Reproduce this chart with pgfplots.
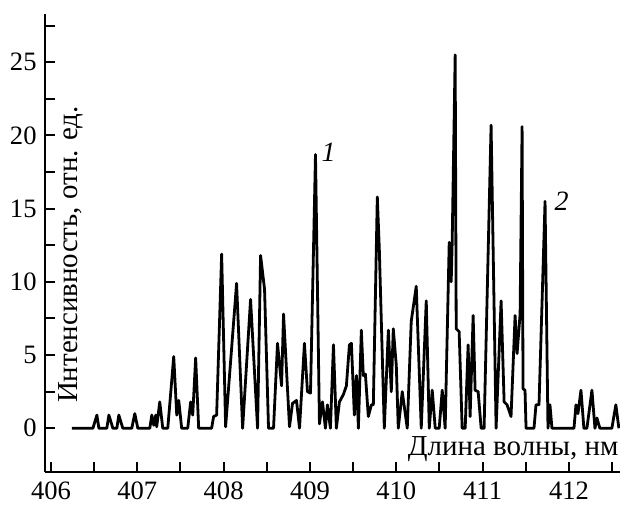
\documentclass[border=0pt]{standalone}
\usepackage{fontspec}
\setmainfont{Liberation Serif}
\usepackage{pgfplots}
\pgfplotsset{compat=1.18}

\begin{document}
\begin{tikzpicture}
\begin{axis}[
  name=ax,
  scale only axis,
  width=288pt, height=229.5pt,
  xmin=405.93, xmax=412.59,
  ymin=-3.0, ymax=28.3,
  axis x line*=bottom, axis y line*=left,
  axis line style={-, line width=1.1pt},
  xtick={406,...,412},
  minor xtick={406.5,407.5,...,412.5},
  ytick={0,5,...,25},
  minor ytick={2.5,7.5,...,27.5},
  tick align=inside,
  major tick length=5pt, minor tick length=5pt,
  tick style={line width=1pt, black},
  /pgf/number format/1000 sep={},
  /pgf/number format/assume math mode=true,
  ticklabel style={font=\fontsize{13.3}{15}\selectfont},
  yticklabel style={anchor=east, inner sep=0pt, xshift=-4pt},
  xticklabel style={anchor=north, inner sep=0pt, yshift=-4.5pt},
]
\addplot[black, line width=1.4pt, line join=round] coordinates {
(406.243,0) (406.486,0) (406.532,0.9) (406.555,0) (406.647,0) (406.671,0.9)
(406.717,0) (406.763,0) (406.786,0.9) (406.832,0) (406.936,0) (406.971,1.0)
(407.006,0) (407.145,0) (407.168,0.9) (407.191,0.2) (407.214,0.9) (407.225,0.1)
(407.260,1.8) (407.295,0) (407.353,0) (407.422,4.9) (407.457,0.9) (407.480,1.9)
(407.514,0) (407.584,0) (407.618,1.8) (407.642,0.9) (407.676,4.8) (407.711,0)
(407.861,0) (407.884,0.8) (407.919,0.9) (407.977,11.9) (408.023,0.1) (408.150,9.9)
(408.220,0) (408.312,8.8) (408.393,0) (408.428,11.8) (408.474,9.5) (408.520,0)
(408.578,0) (408.624,5.8) (408.671,2.9) (408.694,7.8) (408.763,0.1) (408.798,1.7)
(408.844,1.9) (408.879,0) (408.936,5.8) (408.971,2.5) (409.006,2.4) (409.064,18.7)
(409.110,0.3) (409.145,1.8) (409.179,0) (409.202,1.6) (409.237,0) (409.272,5.7)
(409.306,0) (409.341,1.8) (409.387,2.3) (409.422,2.9) (409.457,5.7) (409.480,5.8)
(409.514,0.9) (409.538,3.6) (409.561,0) (409.595,6.7) (409.618,3.6) (409.642,3.7)
(409.676,0.8) (409.711,1.6) (409.734,1.6) (409.780,15.8) (409.803,12.3) (409.861,0)
(409.908,6.7) (409.942,2.5) (409.965,6.8) (410.000,4.3) (410.023,0) (410.069,2.5)
(410.127,0) (410.173,7.3) (410.231,9.7) (410.289,0) (410.347,8.7) (410.382,0)
(410.416,2.6) (410.451,0) (410.497,0) (410.532,2.6) (410.566,0) (410.613,12.7)
(410.636,10.0) (410.647,12.6) (410.682,25.5) (410.694,6.8) (410.728,6.6) (410.763,0)
(410.798,0) (410.832,5.7) (410.855,0.8) (410.890,7.7) (410.913,2.6) (410.948,2.5)
(410.983,0) (411.017,0) (411.098,20.7) (411.156,0) (411.214,8.7) (411.249,1.8)
(411.283,1.6) (411.329,0.8) (411.376,7.7) (411.399,5.1) (411.434,7.8) (411.457,20.6)
(411.468,2.7) (411.491,2.6) (411.503,0) (411.595,0) (411.618,1.6) (411.653,1.6)
(411.723,15.5) (411.757,0) (411.780,1.6) (411.803,0) (412.058,0) (412.081,1.6)
(412.104,1.0) (412.139,2.6) (412.173,0) (412.208,0) (412.266,2.6) (412.301,0)
(412.324,0.7) (412.358,0) (412.497,0) (412.543,1.6) (412.578,0)
};
\node[rotate=90, anchor=base west, inner sep=0pt, font=\fontsize{14.5}{16}\selectfont]
  at (axis cs:406.31,1.7) {Интенсивность, отн. ед.};
\node[anchor=base east, inner sep=0pt, font=\fontsize{14.5}{16}\selectfont]
  at (axis cs:412.578,-1.84) {Длина волны, нм};
\node[anchor=base west, inner sep=0pt, font=\fontsize{14}{16}\selectfont\itshape]
  at (axis cs:409.13,18.2) {1};
\node[anchor=base west, inner sep=0pt, font=\fontsize{14}{16}\selectfont\itshape]
  at (axis cs:411.83,14.9) {2};
\end{axis}
\path ([shift={(-22.5pt,-16pt)}]ax.south west) rectangle ([shift={(0.5pt,7pt)}]ax.north east);
\end{tikzpicture}
\end{document}
